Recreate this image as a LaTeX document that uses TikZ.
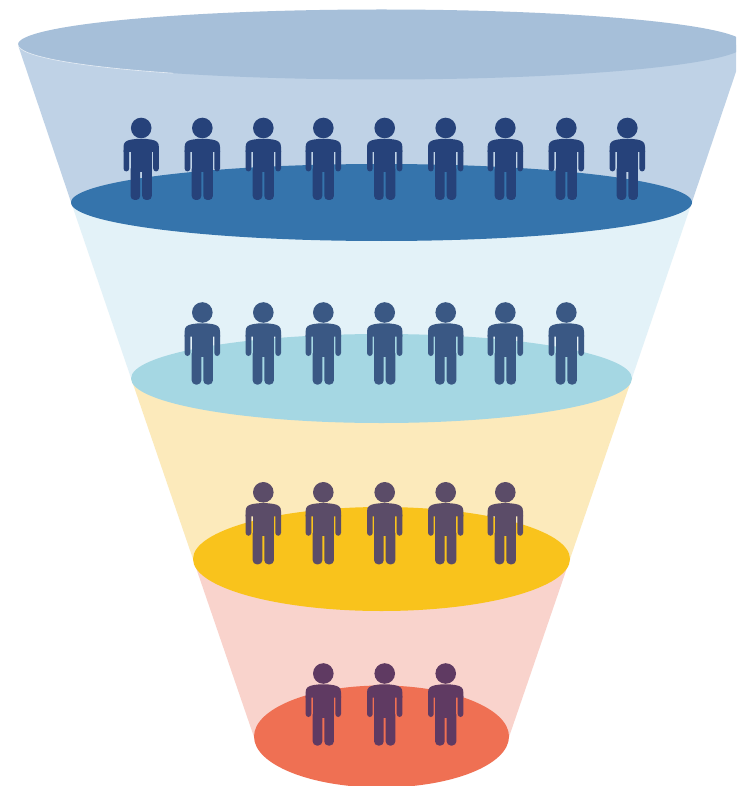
\documentclass[tikz,border=0pt]{standalone}
\definecolor{bandA}{HTML}{BFD2E6}
\definecolor{rimA}{HTML}{A6BFD9}
\definecolor{bandB}{HTML}{E3F2F8}
\definecolor{rimB}{HTML}{3574AC}
\definecolor{bandC}{HTML}{FCEABB}
\definecolor{rimC}{HTML}{A5D7E3}
\definecolor{bandD}{HTML}{F9D3CC}
\definecolor{rimD}{HTML}{F9C31C}
\definecolor{rimE}{HTML}{EF7053}
\definecolor{manA}{HTML}{26427A}
\definecolor{manB}{HTML}{3A5884}
\definecolor{manC}{HTML}{5B4C68}
\definecolor{manD}{HTML}{5F3A62}
\tikzset{
  rim/.style={fill=#1,draw=none},
  band/.style={fill=#1,draw=none},
  man/.pic={
    \fill (0,-12) circle (10.3);
    % shoulders
    \fill (-17.7,12) -- (-17.7,7) .. controls (-17.7,2) and (-15,0.6) .. (-10,-0.4)
      .. controls (-4,-1.5) and (4,-1.5) .. (10,-0.4)
      .. controls (15,0.6) and (17.7,2) .. (17.7,7) -- (17.7,12) -- cycle;
    % torso
    \fill (-10.6,11) rectangle (10.6,32);
    % arms
    \fill[rounded corners=3] (-17.7,8) rectangle (-12,31.5);
    \fill[rounded corners=3] (12,8) rectangle (17.7,31.5);
    % legs
    \fill[rounded corners=4] (-10.6,25) rectangle (-1,60);
    \fill[rounded corners=4] (1,25) rectangle (10.6,60);
  }
}
\begin{document}
\begin{tikzpicture}[x=1pt,y=-1pt,line width=0pt]
\useasboundingbox (0,0) rectangle (736,786);
\clip (0,0) rectangle (736,786);
\fill[white] (0,0) rectangle (736,786);
% bands
\path[band=bandA] (18,45) -- (71,202) -- (692,202) -- (745,45) -- cycle;
\path[band=bandB] (71,202) -- (131,378) -- (632,378) -- (692,202) -- cycle;
\path[band=bandC] (131,378) -- (193,559) -- (570,559) -- (632,378) -- cycle;
\path[band=bandD] (193,559) -- (254,737) -- (509,737) -- (570,559) -- cycle;
% rims
\path[rim=rimA] (381.5,44.5) ellipse [x radius=363.5,y radius=35];
\draw[white,opacity=.7,line width=.6pt] (18,44.5) arc [start angle=180,end angle=125,x radius=363.5,y radius=35];
\path[rim=rimB] (381.5,202.5) ellipse [x radius=310.5,y radius=38.5];
\path[rim=rimC] (381.5,378.5) ellipse [x radius=250.5,y radius=44.5];
\path[rim=rimD] (381.5,559) ellipse [x radius=188.5,y radius=52];
\path[rim=rimE] (381.5,736.5) ellipse [x radius=127.5,y radius=51];
% people
\foreach \px in {141.2,202.3,263.3,323.3,384.7,445.7,505.3,566.3,627.3}
  \pic[manA] at (\px,140) {man};
\foreach \px in {202.3,263.3,323.3,384.7,445.7,505.3,566.3}
  \pic[manB] at (\px,324.5) {man};
\foreach \px in {263.3,323.3,384.7,445.7,505.3}
  \pic[manC] at (\px,504.3) {man};
\foreach \px in {323.3,384.7,445.7}
  \pic[manD] at (\px,685.5) {man};
\end{tikzpicture}
\end{document}
